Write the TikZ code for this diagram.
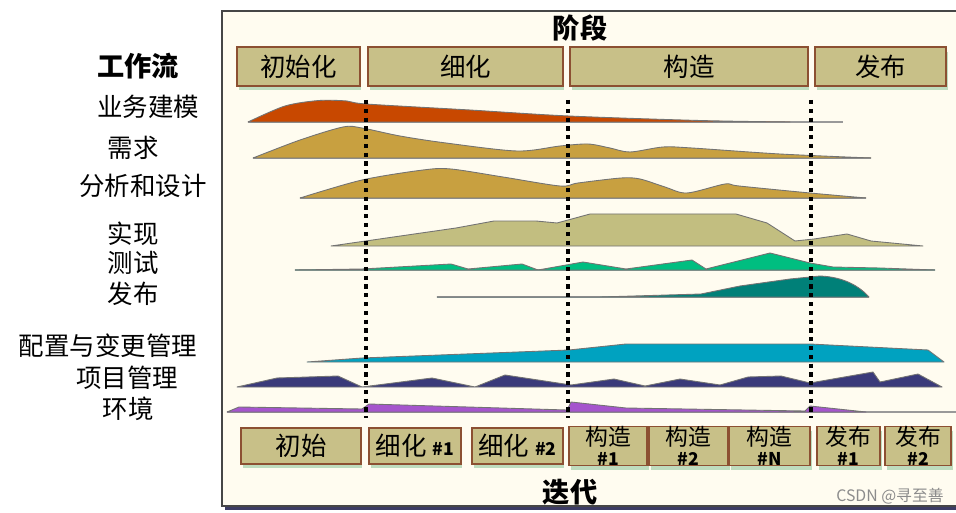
\documentclass[tikz,border=0pt]{standalone}
\usepackage{fontspec}
\setmainfont{Noto Sans CJK SC}
\usetikzlibrary{shadows}

\definecolor{bgcream}{RGB}{255,252,240}
\definecolor{framegray}{RGB}{70,70,70}
\definecolor{frameshadow}{RGB}{60,60,100}
\definecolor{boxfill}{RGB}{200,192,136}
\definecolor{boxline}{RGB}{140,80,50}
\definecolor{boxshadow}{RGB}{190,220,190}
\definecolor{bizred}{RGB}{200,72,0}
\definecolor{reqgold}{RGB}{200,160,64}
\definecolor{implkhaki}{RGB}{194,190,128}
\definecolor{testgreen}{RGB}{0,190,128}
\definecolor{deployteal}{RGB}{0,128,120}
\definecolor{cfgcyan}{RGB}{0,162,192}
\definecolor{pmnavy}{RGB}{58,58,122}
\definecolor{envpurple}{RGB}{165,85,205}

\newcommand\wffont{\fontsize{14.5}{16}\selectfont}
\newcommand\headfont{\fontsize{15.5}{18}\selectfont\bfseries}
\newcommand\twofont{\fontsize{13}{11}\selectfont}
\newcommand\numfont{\fontsize{10}{11}\selectfont\bfseries}

\tikzset{
  %% phase / iteration boxes
  phasebox/.style={
    rectangle, draw=boxline, fill=boxfill, line width=0.8pt,
    inner sep=0pt, minimum height=0.78cm, font=\wffont,
    drop shadow={shadow xshift=0.03cm, shadow yshift=-0.09cm,
                 fill=boxshadow, opacity=1}
  },
  iterbox/.style={phasebox, minimum height=0.72cm},
  twoline/.style={iterbox, align=center, font=\twofont},
  %% workflow labels
  wflabel/.style={font=\wffont, inner sep=0pt},
  %% humps
  hump/.style={fill=#1, draw=black!55, line width=0.5pt, line join=round},
  base/.style={draw=black!40, line width=0.8pt},
  marker/.style={draw=black, line width=2.2pt, dash pattern=on 2.4pt off 2.6pt},
}

\begin{document}
\begin{tikzpicture}[x=0.02cm, y=-0.02cm]
  \useasboundingbox (0,0) rectangle (956,513);

  %% Frame
  \draw[frameshadow, line width=2pt] (225,508.5) -- (962,508.5);
  \filldraw[fill=bgcream, draw=framegray, line width=1.2pt]
       (222,11) rectangle (962,506);

  %% Headings
  \node[font=\headfont] (phases) at (580,28) {阶段};
  \node[font=\headfont] (iters)  at (570,492) {迭代};
  \node[font=\headfont] (wfTitle) at (138,66) {工作流};

  %% Phase boxes
  \node[phasebox, minimum width=2.46cm] (phInit)  at (298.5,66.5) {初始化};
  \node[phasebox, minimum width=3.90cm] (phElab)  at (465.5,66.5) {细化};
  \node[phasebox, minimum width=4.76cm] (phCons)  at (689,66.5)   {构造};
  \node[phasebox, minimum width=2.62cm] (phTrans) at (880.5,66.5) {发布};

  %% Workflow labels
  \node[wflabel] (wfBiz)  at (148,107) {业务建模};
  \node[wflabel] (wfReq)  at (133,148) {需求};
  \node[wflabel] (wfAna)  at (143,186) {分析和设计};
  \node[wflabel] (wfImpl) at (133,234) {实现};
  \node[wflabel] (wfTest) at (133,263) {测试};
  \node[wflabel] (wfDep)  at (133,294) {发布};
  \node[wflabel] (wfCfg)  at (108,346) {配置与变更管理};
  \node[wflabel] (wfPm)   at (127,378) {项目管理};
  \node[wflabel] (wfEnv)  at (128,409) {环境};

  %% Business modelling
  \draw[base] (248,122) -- (843,122);
  \filldraw[hump=bizred] plot[smooth, tension=0.5] coordinates {
       (248,122) (285,106) (319,100.5) (347,101) (366,104)
       (470,110) (569,116) (700,120.5) (790,122)} -- cycle;

  %% Requirements
  \draw[base] (253,158) -- (871,158);
  \filldraw[hump=reqgold] plot[smooth, tension=0.5] coordinates {
       (253,158) (300,140) (343,127) (362,128) (400,136) (446,143)
       (517,151) (560,146) (588,144) (610,148) (630,152) (663,147)
       (692,148) (780,154) (871,158)} -- cycle;

  %% Analysis and design
  \draw[base] (300,198) -- (866,198);
  \filldraw[hump=reqgold] plot[smooth, tension=0.5] coordinates {
       (300,198) (362,180) (423,170) (451,169) (503,177) (560,186)
       (578,183) (621,178) (640,179) (665,187) (687,193) (725,184)
       (739,186) (810,193) (866,198)} -- cycle;

  %% Implementation
  \filldraw[hump=implkhaki] (331,246) -- (456,228) -- (494,221) -- (536,221)
       -- (557,223) -- (590,214) -- (736,214) -- (767,223) -- (795,241)
       -- (814,239) -- (847,234) -- (871,241) -- (923,246) -- cycle;

  %% Test
  \draw[base] (295,270) -- (935,270);
  \filldraw[hump=testgreen] (295,270) -- (362,269) -- (451,264) -- (468,269)
       -- (522,264) -- (538,270) -- (583,262) -- (626,269) -- (692,260)
       -- (706,269) -- (770,253) -- (810,263) -- (833,267) -- (880,268)
       -- (935,270) -- cycle;

  %% Deployment
  \draw[base] (437,297) -- (869,297);
  \filldraw[hump=deployteal] (437,297) -- (600,297) -- (701,294) -- (740,286)
       -- (790,279) -- (820,276) .. controls (845,277) and (860,287) .. (869,297)
       -- cycle;

  %% Configuration and change management
  \filldraw[hump=cfgcyan] (307,362) -- (362,358) -- (569,350) -- (626,344)
       -- (810,344) -- (928,350) -- (944,362) -- cycle;

  %% Project management
  \filldraw[hump=pmnavy] (237,387) -- (277,378) -- (338,376) -- (362,387)
       -- (432,378) -- (475,387) -- (505,375) -- (571,385) -- (614,379)
       -- (645,386) -- (680,379) -- (720,385) -- (748,377) -- (781,376)
       -- (810,383) -- (873,372) -- (880,382) -- (918,374) -- (942,387)
       -- cycle;

  %% Environment
  \draw[base] (227,412) -- (962,412);
  \filldraw[hump=envpurple] (227,412) -- (239,407) -- (362,409) -- (369,404)
       -- (567,410) -- (571,402) -- (626,408) -- (805,411) -- (810,406)
       -- (866,412) -- cycle;

  %% Phase milestones
  \foreach \x in {366,568,811}
    \draw[marker] (\x,100) -- (\x,418);

  %% Iteration boxes
  \node[iterbox, minimum width=2.40cm] (itInit) at (301,446)   {初始};
  \node[iterbox, minimum width=1.84cm] (itE1)   at (415,446)   {细化 {\numfont\#1}};
  \node[iterbox, minimum width=1.82cm] (itE2)   at (517.5,446) {细化 {\numfont\#2}};
  \node[twoline, minimum width=1.56cm] (itC1)   at (608,446)   {构造\\{\numfont\#1}};
  \node[twoline, minimum width=1.58cm] (itC2)   at (688.5,446) {构造\\{\numfont\#2}};
  \node[twoline, minimum width=1.62cm] (itCN)   at (769.5,446) {构造\\{\numfont\#N}};
  \node[twoline, minimum width=1.26cm] (itT1)   at (848.5,446) {发布\\{\numfont\#1}};
  \node[twoline, minimum width=1.32cm] (itT2)   at (918,446)   {发布\\{\numfont\#2}};

  %% Watermark
  \node[font=\fontsize{9}{10}\selectfont, text=black!45] (wm) at (890,496)
       {CSDN @寻至善};

\end{tikzpicture}
\end{document}
